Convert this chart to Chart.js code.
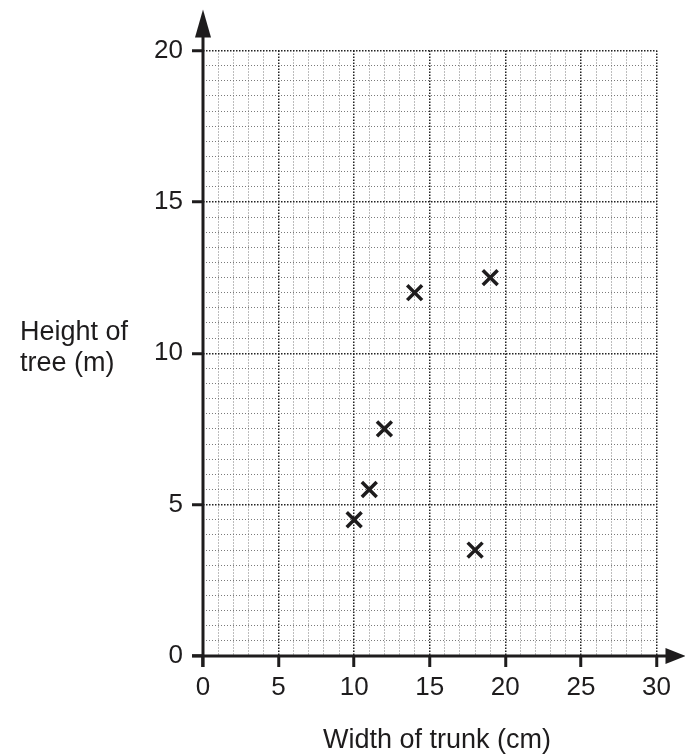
<!DOCTYPE html>
<html>
<head>
<meta charset="utf-8">
<script src="https://cdn.jsdelivr.net/npm/chart.js@4"></script>
<style>
  body { margin: 0; background: #fff; }
  canvas { display: block; }
</style>
</head>
<body>
<canvas id="chart" width="685" height="754"></canvas>
<script>
// data
const trunkWidth = [10, 11, 12, 14, 18, 19];
const treeHeight = [4.5, 5.5, 7.5, 12, 3.5, 12.5];

const xLabels = [0, 5, 10, 15, 20, 25, 30];
const yLabels = [0, 5, 10, 15, 20];

const xTitle = 'Width of trunk (cm)';
const yTitle = ['Height of', 'tree (m)'];

const ink = '#1e1c1d';
const font = "'Liberation Sans', Arial, sans-serif";

const points = trunkWidth.map((w, i) => ({ x: w, y: treeHeight[i] }));

function isMajor(list, v) {
  return list.some(l => Math.abs(l - v) < 1e-6);
}

function gridOpts(list) {
  return {
    color: c => isMajor(list, c.tick.value) ? '#222' : '#7a7a7a',
    lineWidth: c => isMajor(list, c.tick.value) ? 1.5 : 1,
    tickColor: c => isMajor(list, c.tick.value) ? ink : 'rgba(0,0,0,0)',
    tickWidth: 3,
    tickLength: 11
  };
}

// axes with arrows and the two titles
const axesPlugin = {
  id: 'axes',
  afterDraw(chart) {
    const ctx = chart.ctx;
    const xs = chart.scales.x, ys = chart.scales.y;
    const x0 = xs.getPixelForValue(0), y0 = ys.getPixelForValue(0);
    const yTop = ys.getPixelForValue(20), xEnd = xs.getPixelForValue(30);
    ctx.save();
    ctx.strokeStyle = ink;
    ctx.fillStyle = ink;
    ctx.lineWidth = 3;
    ctx.beginPath();
    ctx.moveTo(x0, y0 + 11);
    ctx.lineTo(x0, yTop - 20);
    ctx.moveTo(x0 - 11, y0);
    ctx.lineTo(xEnd + 15, y0);
    ctx.stroke();
    // arrow heads
    ctx.beginPath();
    ctx.moveTo(x0, yTop - 41);
    ctx.lineTo(x0 - 8, yTop - 13);
    ctx.lineTo(x0 + 8, yTop - 13);
    ctx.closePath();
    ctx.fill();
    ctx.beginPath();
    ctx.moveTo(xEnd + 29, y0);
    ctx.lineTo(xEnd + 9, y0 - 8);
    ctx.lineTo(xEnd + 9, y0 + 8);
    ctx.closePath();
    ctx.fill();

    ctx.font = '27px ' + font;
    ctx.textBaseline = 'alphabetic';
    ctx.textAlign = 'left';
    ctx.fillText(yTitle[0], 20, 340);
    ctx.fillText(yTitle[1], 20, 371);
    ctx.textAlign = 'center';
    ctx.fillText(xTitle, 437, 748);
    ctx.restore();
  }
};

new Chart(document.getElementById('chart'), {
  type: 'scatter',
  data: {
    datasets: [{
      data: points,
      pointStyle: 'crossRot',
      radius: 10.5,
      hoverRadius: 10.5,
      borderWidth: 3.5,
      borderColor: ink,
      backgroundColor: ink
    }]
  },
  options: {
    responsive: false,
    animation: false,
    layout: { padding: { top: 50.5, right: 28.5, left: 0, bottom: 0 } },
    plugins: {
      legend: { display: false },
      tooltip: { enabled: false }
    },
    scales: {
      x: {
        type: 'linear',
        min: 0,
        max: 30,
        afterFit: s => { s.height = 98; },
        grid: gridOpts(xLabels),
        border: {
          display: false,
          dash: c => isMajor(xLabels, c.tick.value) ? [1.5, 1.5] : [1, 2]
        },
        ticks: {
          stepSize: 1,
          autoSkip: false,
          maxRotation: 0,
          padding: 5,
          color: ink,
          font: { family: font, size: 26 },
          callback: v => isMajor(xLabels, v) ? String(v) : ''
        }
      },
      y: {
        type: 'linear',
        min: 0,
        max: 20,
        afterFit: s => { s.width = 203; },
        grid: gridOpts(yLabels),
        border: {
          display: false,
          dash: c => isMajor(yLabels, c.tick.value) ? [1.5, 1.5] : [1, 2]
        },
        ticks: {
          stepSize: 0.5,
          autoSkip: false,
          padding: 9,
          color: ink,
          font: { family: font, size: 26 },
          callback: v => isMajor(yLabels, v) ? String(v) : ''
        }
      }
    }
  },
  plugins: [axesPlugin]
});
</script>
</body>
</html>
